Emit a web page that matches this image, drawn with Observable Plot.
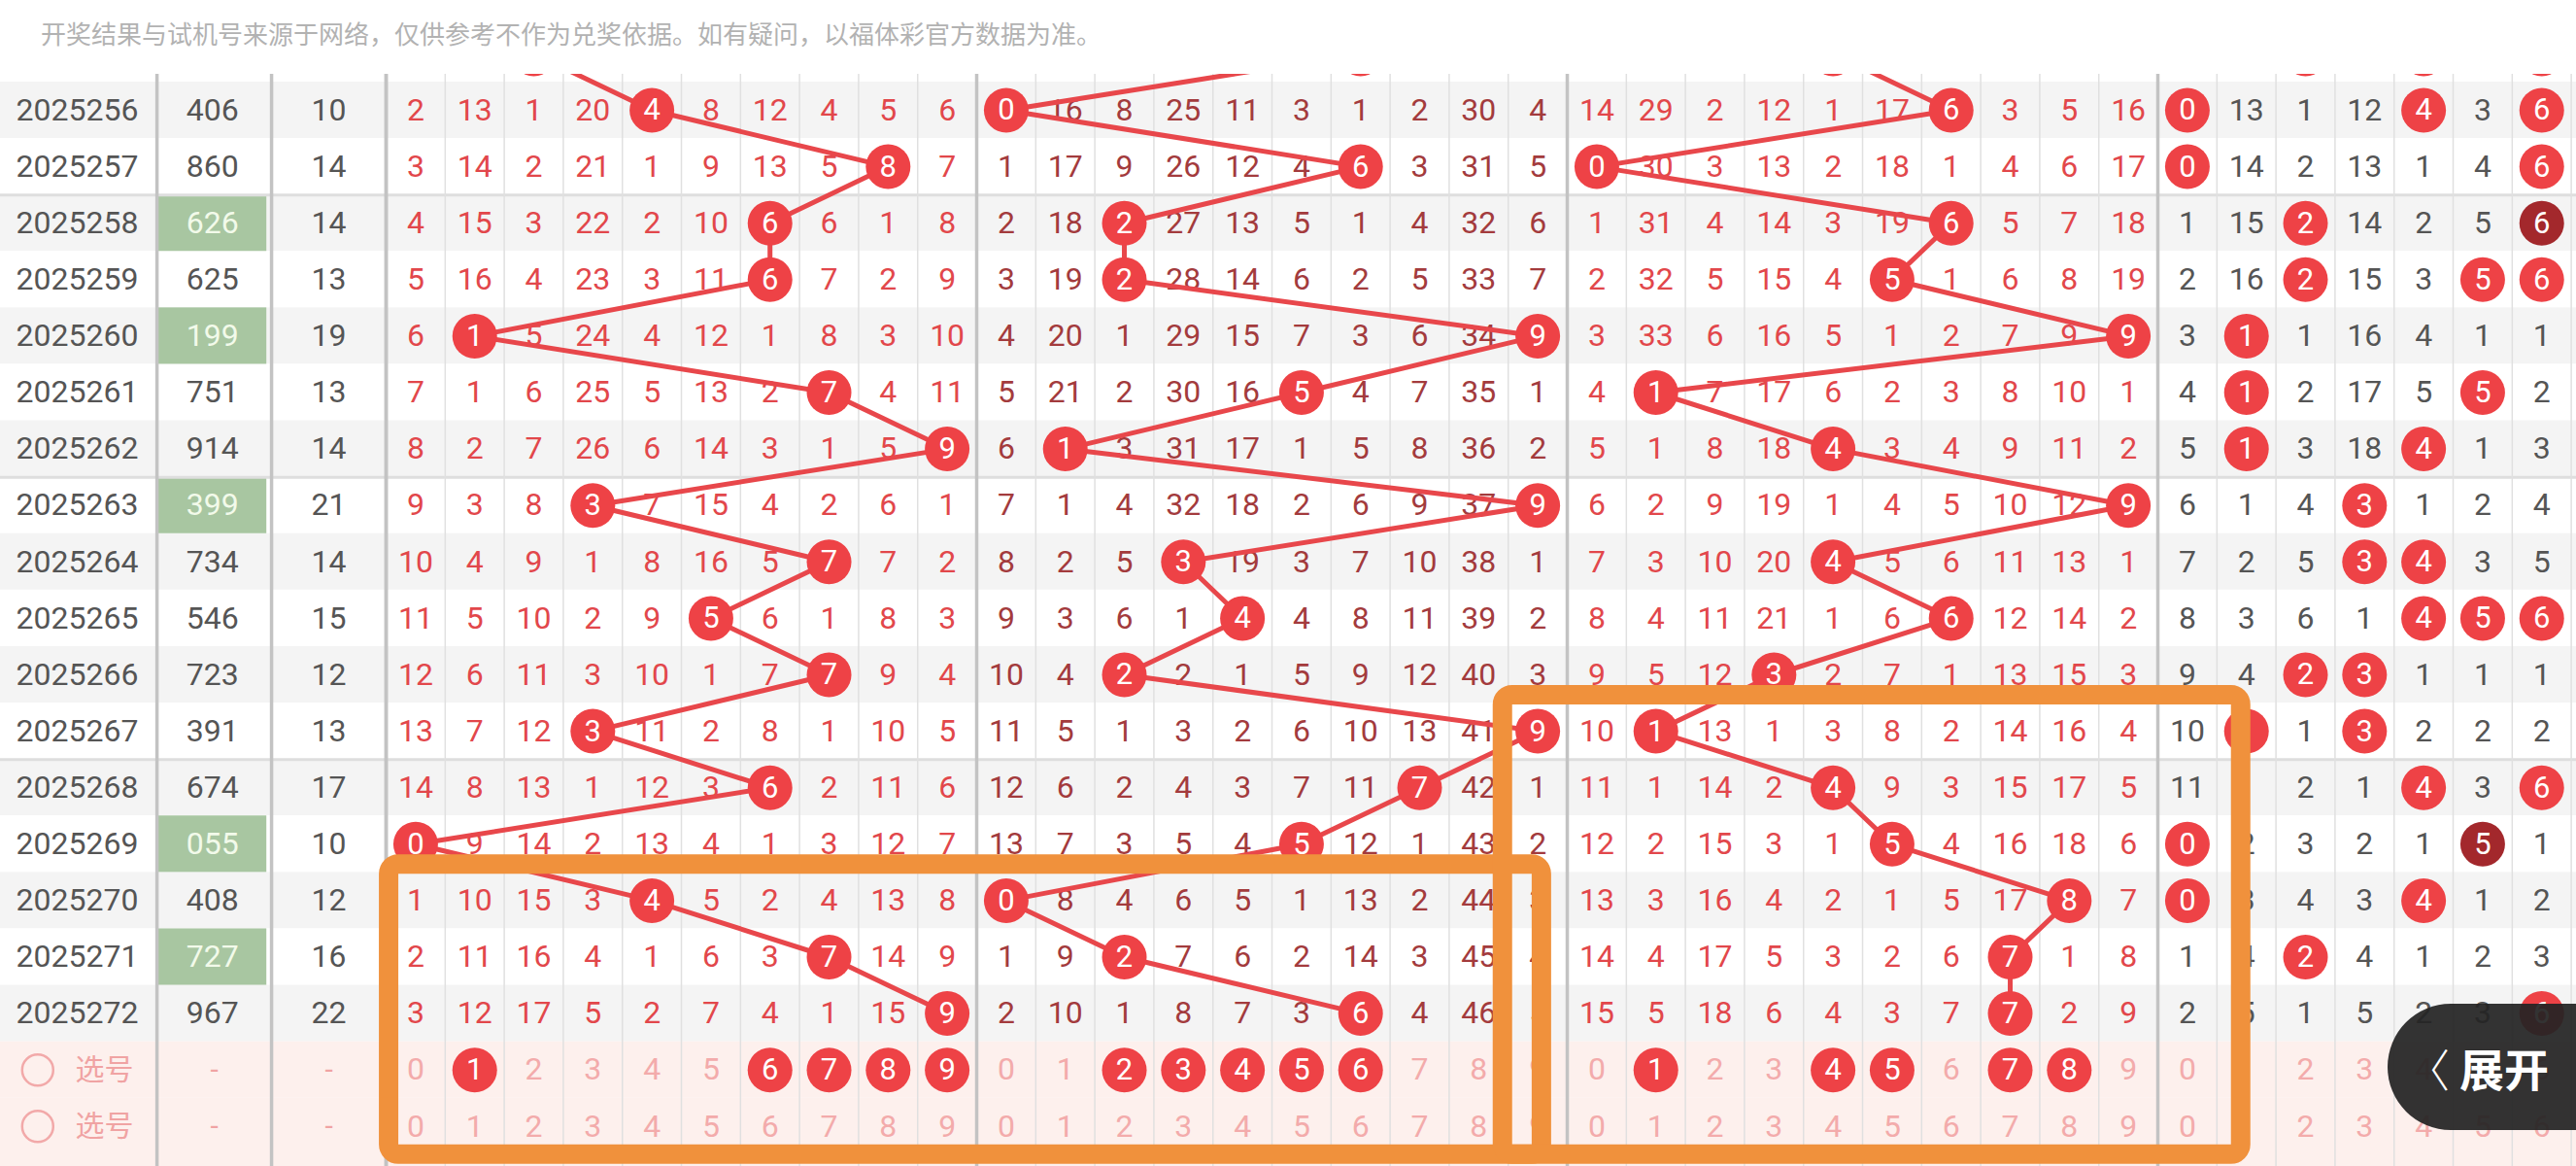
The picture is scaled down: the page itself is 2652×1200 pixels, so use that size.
<!DOCTYPE html>
<html>
<head>
<meta charset="utf-8">
<script src="https://cdn.jsdelivr.net/npm/d3@7"></script>
<script src="https://cdn.jsdelivr.net/npm/@observablehq/plot@0.6"></script>
<style>
html, body { margin: 0; padding: 0; background: #fff; width: 2652px; height: 1200px; overflow: hidden; }
#header { height: 76px; font: 26px "Noto Sans CJK SC", sans-serif; line-height: 68px; padding-left: 42px; color: #b2b2b2; white-space: nowrap; box-sizing: border-box; }
#chart svg { display: block; }
#btn { position: absolute; left: 2458px; top: 1033px; width: 194px; height: 130px; border-radius: 65px 0 0 65px;
  background: rgba(36,36,36,0.93); color: #fff; font: 700 46px "Noto Sans CJK SC", sans-serif;
  display: flex; align-items: center; padding-left: 18px; box-sizing: border-box; white-space: nowrap; }
#btn .chev { font-weight: 300; margin-right: 10px; }
</style>
</head>
<body>
<div id="header">开奖结果与试机号来源于网络，仅供参考不作为兑奖依据。如有疑问，以福体彩官方数据为准。</div>
<div id="chart"></div>
<div id="btn"><span class="chev">〈</span>展开</div>
<script>
// ---------------- DATA ----------------
const prevPeriod = "2025255";
const prevNumber = "264"; // row scrolled mostly out of view
const periods = ["2025256","2025257","2025258","2025259","2025260","2025261","2025262","2025263","2025264",
  "2025265","2025266","2025267","2025268","2025269","2025270","2025271","2025272"];
const numbers = ["406","860","626","625","199","751","914","399","734","546","723","391","674","055","408","727","967"];
const sums = [10,14,14,13,19,13,14,21,14,15,12,13,17,10,12,16,22];

// omission values (0 = drawn this period)
const missHundreds = [
  [2,13,1,20,0,8,12,4,5,6],
  [3,14,2,21,1,9,13,5,0,7],
  [4,15,3,22,2,10,0,6,1,8],
  [5,16,4,23,3,11,0,7,2,9],
  [6,0,5,24,4,12,1,8,3,10],
  [7,1,6,25,5,13,2,0,4,11],
  [8,2,7,26,6,14,3,1,5,0],
  [9,3,8,0,7,15,4,2,6,1],
  [10,4,9,1,8,16,5,0,7,2],
  [11,5,10,2,9,0,6,1,8,3],
  [12,6,11,3,10,1,7,0,9,4],
  [13,7,12,0,11,2,8,1,10,5],
  [14,8,13,1,12,3,0,2,11,6],
  [0,9,14,2,13,4,1,3,12,7],
  [1,10,15,3,0,5,2,4,13,8],
  [2,11,16,4,1,6,3,0,14,9],
  [3,12,17,5,2,7,4,1,15,0]
];
const missTens = [
  [0,16,8,25,11,3,1,2,30,4],
  [1,17,9,26,12,4,0,3,31,5],
  [2,18,0,27,13,5,1,4,32,6],
  [3,19,0,28,14,6,2,5,33,7],
  [4,20,1,29,15,7,3,6,34,0],
  [5,21,2,30,16,0,4,7,35,1],
  [6,0,3,31,17,1,5,8,36,2],
  [7,1,4,32,18,2,6,9,37,0],
  [8,2,5,0,19,3,7,10,38,1],
  [9,3,6,1,0,4,8,11,39,2],
  [10,4,0,2,1,5,9,12,40,3],
  [11,5,1,3,2,6,10,13,41,0],
  [12,6,2,4,3,7,11,0,42,1],
  [13,7,3,5,4,0,12,1,43,2],
  [0,8,4,6,5,1,13,2,44,3],
  [1,9,0,7,6,2,14,3,45,4],
  [2,10,1,8,7,3,0,4,46,5]
];
const missOnes = [
  [14,29,2,12,1,17,0,3,5,16],
  [0,30,3,13,2,18,1,4,6,17],
  [1,31,4,14,3,19,0,5,7,18],
  [2,32,5,15,4,0,1,6,8,19],
  [3,33,6,16,5,1,2,7,9,0],
  [4,0,7,17,6,2,3,8,10,1],
  [5,1,8,18,0,3,4,9,11,2],
  [6,2,9,19,1,4,5,10,12,0],
  [7,3,10,20,0,5,6,11,13,1],
  [8,4,11,21,1,6,0,12,14,2],
  [9,5,12,0,2,7,1,13,15,3],
  [10,0,13,1,3,8,2,14,16,4],
  [11,1,14,2,0,9,3,15,17,5],
  [12,2,15,3,1,0,4,16,18,6],
  [13,3,16,4,2,1,5,17,0,7],
  [14,4,17,5,3,2,6,0,1,8],
  [15,5,18,6,4,3,7,0,2,9]
];
// digit distribution, digits 0-6 visible
const missDist = [
  [0,13,1,12,0,3,0],
  [0,14,2,13,1,4,0],
  [1,15,0,14,2,5,0],
  [2,16,0,15,3,0,0],
  [3,0,1,16,4,1,1],
  [4,0,2,17,5,0,2],
  [5,0,3,18,0,1,3],
  [6,1,4,0,1,2,4],
  [7,2,5,0,0,3,5],
  [8,3,6,1,0,0,0],
  [9,4,0,0,1,1,1],
  [10,0,1,0,2,2,2],
  [11,1,2,1,0,3,0],
  [0,2,3,2,1,0,1],
  [0,3,4,3,0,1,2],
  [1,4,0,4,1,2,3],
  [2,5,1,5,2,3,0]
];
// picks in the first "选号" row
const picks = [[1,6,7,8,9],[2,3,4,5,6],[1,4,5,7,8],[]];
const selLabel = "选号";

// ---------------- LAYOUT ----------------
const W = 2652, H = 1124, U = 60.8;          // U = px per digit column
const xDateC = 1.30, xNumL = 2.65, xNumR = 4.59, xSumR = 6.53;
const blockX0 = b => xSumR + 10 * b;
const colX = (b, k) => blockX0(b) + k + 0.5;
const blockCols = [10, 10, 10, 7];
const nRows = 20; // prev + 17 + 2 selection rows
const rowC = i => i + 0.5;

const tables = [missHundreds, missTens, missOnes, missDist];
const countDigit = (s, k) => [...s].filter(c => +c === k).length;

const cells = [], hits = [];
tables.forEach((tbl, b) => tbl.forEach((row, r) => row.forEach((v, k) => {
  const i = r + 1;
  if (v === 0) hits.push({b, k, i, dark: b === 3 && countDigit(numbers[r], k) > 1});
  else cells.push({b, k, i, v});
})));
[...prevNumber].forEach((c, b) => hits.push({b, k: +c, i: 0, dark: false}));
[...new Set(prevNumber)].forEach(c => { if (+c < blockCols[3]) hits.push({b: 3, k: +c, i: 0, dark: countDigit(prevNumber, +c) > 1}); });

const lineData = hits.filter(d => d.b < 3).sort((a, c) => a.b - c.b || a.i - c.i);

const rows = d3.range(nRows).map(i => ({i,
  fill: i >= 18 ? "#fdf0ed" : (i % 2 === 1 ? "#f4f4f4" : "#ffffff")}));
const dataRows = periods.map((p, r) => ({i: r + 1, period: p, number: numbers[r], sum: sums[r],
  pair: new Set(numbers[r]).size < 3}));

const selCells = [];
[18, 19].forEach(i => blockCols.forEach((n, b) => d3.range(n).forEach(k =>
  selCells.push({i, b, k, picked: i === 18 && picks[b].includes(k)}))));

const thinX = [], thickX = [xNumL, xNumR, xSumR];
blockCols.forEach((n, b) => {
  thickX.push(blockX0(b));
  d3.range(1, n + 1).forEach(k => { if (k !== 10) thinX.push(blockX0(b) + k); });
});
const groupLines = [3, 8, 13]; // every 5 periods

const boxes = [
  {x1: blockX0(0) + 0.05, x2: colX(1, 9) + 0.07, y1: 14.86, y2: 20.0},
  {x1: colX(1, 8) + 0.41, x2: colX(3, 1) - 0.09, y1: 11.86, y2: 20.0}
];

const textColors = ["#e2474b", "#a33b3d", "#e2474b", "#555555"];
const FONT = "Roboto, 'Noto Sans', sans-serif";

const chart = Plot.plot({
  width: W, height: H, margin: 0,
  x: {type: "linear", domain: [0, W / U], range: [0, W], axis: null},
  y: {type: "linear", domain: [0, nRows], range: [-50.15, 1111.85], axis: null},
  color: {type: "identity"},
  style: {fontFamily: FONT, background: "#fff"},
  marks: [
    Plot.rect(rows, {x1: () => 0, x2: () => W / U, y1: d => d.i, y2: d => d.i === nRows - 1 ? d.i + 1.5 : d.i + 1, fill: "fill", clip: true}),
    Plot.rect(dataRows.filter(d => d.pair), {x1: () => xNumL + 0.02, x2: () => xNumR - 0.08, y1: d => d.i, y2: d => d.i + 1, fill: "#a8c6a1"}),
    Plot.ruleY(groupLines, {y: d => d, stroke: "#dedede", strokeWidth: 3}),
    Plot.ruleX(thinX, {x: d => d, y1: () => -1, y2: () => 21, stroke: "#e0e0e0", strokeWidth: 1.5}),
    Plot.ruleX(thickX, {x: d => d, y1: () => -1, y2: () => 21, stroke: "#c3c3c3", strokeWidth: 3.5}),
    // left columns
    Plot.text(dataRows, {x: () => xDateC, y: d => rowC(d.i), text: "period", fill: "#555", fontSize: 32}),
    Plot.text(dataRows, {x: () => (xNumL + xNumR) / 2 - 0.03, y: d => rowC(d.i), text: "number", fill: d => d.pair ? "#f2faea" : "#555", fontSize: 32}),
    Plot.text(dataRows, {x: () => (xNumR + xSumR) / 2, y: d => rowC(d.i), text: "sum", fill: "#555", fontSize: 32}),
    // selection rows left part
    Plot.dot([18, 19], {x: () => 0.63, y: d => rowC(d), r: 16, stroke: "#f2a9a9", strokeWidth: 2.5, fill: "none"}),
    Plot.text([18, 19], {x: () => 1.76, y: d => rowC(d), text: () => selLabel, fill: "#f0a3a3", fontSize: 30, fontFamily: "'Noto Sans CJK SC', sans-serif"}),
    Plot.text([18, 19], {x: () => (xNumL + xNumR) / 2, y: d => rowC(d), text: () => "-", fill: "#f0a3a3", fontSize: 30}),
    Plot.text([18, 19], {x: () => (xNumR + xSumR) / 2, y: d => rowC(d), text: () => "-", fill: "#f0a3a3", fontSize: 30}),
    // omission numbers
    Plot.text(cells, {x: d => colX(d.b, d.k), y: d => rowC(d.i), text: d => String(d.v), fill: d => textColors[d.b], fontSize: 32}),
    // trend lines
    Plot.line(lineData, {x: d => colX(d.b, d.k), y: d => rowC(d.i), z: "b", stroke: "#e8474b", strokeWidth: 5, clip: true}),
    // hit balls
    Plot.dot(hits, {x: d => colX(d.b, d.k), y: d => rowC(d.i), r: 23, fill: d => d.dark ? "#a3282c" : "#ee4246", clip: true}),
    Plot.text(hits.filter(d => d.i > 0), {x: d => colX(d.b, d.k), y: d => rowC(d.i), text: d => String(d.k), fill: "#fff", fontSize: 31}),
    // selection digits
    Plot.text(selCells.filter(d => !d.picked), {x: d => colX(d.b, d.k), y: d => rowC(d.i), text: d => String(d.k), fill: "#f3abab", fontSize: 32}),
    Plot.dot(selCells.filter(d => d.picked), {x: d => colX(d.b, d.k), y: d => rowC(d.i), r: 23, fill: "#ee4246"}),
    Plot.text(selCells.filter(d => d.picked), {x: d => colX(d.b, d.k), y: d => rowC(d.i), text: d => String(d.k), fill: "#fff", fontSize: 31}),
    // annotation boxes
    Plot.rect(boxes, {x1: "x1", x2: "x2", y1: "y1", y2: "y2", fill: "none", stroke: "#f0913c", strokeWidth: 20, rx: 10, clip: true})
  ]
});
document.getElementById("chart").appendChild(chart);
</script>
</body>
</html>
